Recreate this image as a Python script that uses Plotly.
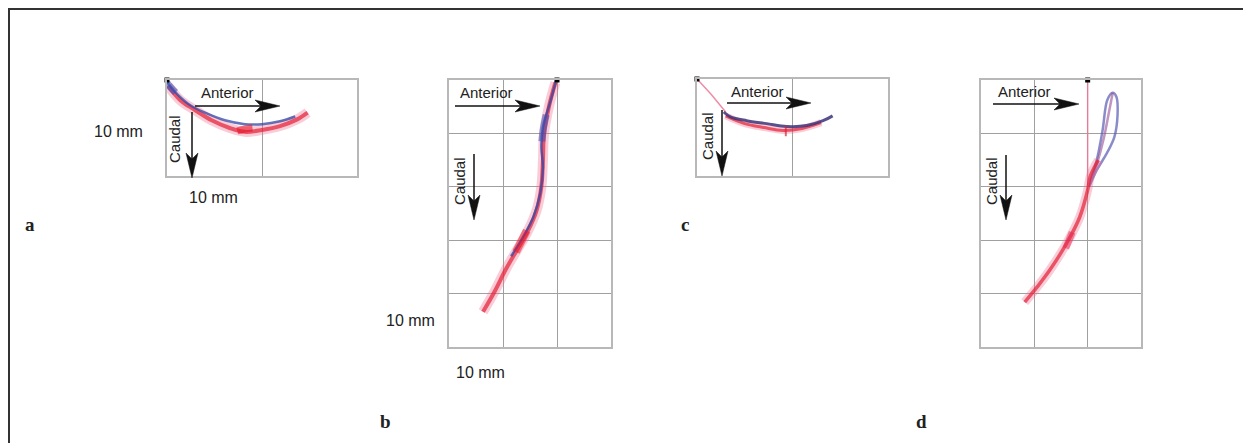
import plotly.graph_objects as go

# ---- data (mm; x = anterior, y = caudal) ----
a_red_x = [0.1, 1.4, 2.9, 4.7, 6.6, 8.2, 10.0, 11.9, 13.7, 14.8]
a_red_y = [0.6, 2.1, 3.1, 4.2, 5.0, 5.4, 5.2, 4.8, 4.1, 3.4]
a_blue_x = [-0.2, 0.3, 1.2, 2.4, 4.0, 6.1, 8.2, 10.0, 11.9, 13.5]
a_blue_y = [-0.1, 0.6, 1.6, 2.6, 3.4, 4.2, 4.6, 4.6, 4.3, 3.8]
a_blob_red = ([7.4, 8.2, 9.0], [5.3, 5.1, 5.0])
a_blob_blue = ([0.0, 0.4, 0.9], [0.3, 0.8, 1.3])

b_red_x = [-0.3, -1.5, -2.4, -2.6, -2.9, -3.8, -5.5, -7.5, -9.5, -11.5, -13.7]
b_red_y = [0.5, 5.0, 10.0, 15.0, 20.0, 24.5, 28.5, 32.0, 35.5, 39.5, 43.4]
b_blue_x = [-0.2, -1.3, -2.6, -2.9, -2.6, -3.1, -4.4, -6.3, -8.5]
b_blue_y = [0.2, 4.3, 8.8, 12.5, 16.3, 21.2, 25.7, 29.4, 33.0]
b_blob_red = ([-5.6, -6.5, -7.6], [28.2, 30.0, 32.2])
b_blob_blue = ([-2.0, -2.5, -2.8], [6.5, 9.0, 11.5])

c_pink_x = [0.0, 1.5, 3.0]
c_pink_y = [0.0, 1.6, 3.4]
c_red_x = [3.0, 5.0, 7.0, 9.0, 11.0, 13.0]
c_red_y = [3.8, 4.6, 5.0, 5.3, 5.1, 4.5]
c_blue_x = [2.8, 3.5, 5.2, 7.3, 9.4, 11.5, 13.2, 14.2]
c_blue_y = [3.4, 3.9, 4.3, 4.6, 4.9, 4.8, 4.3, 3.8]
c_spike_x = [9.3, 9.3]
c_spike_y = [4.9, 5.9]

d_pink_x = [0.0, 0.0]
d_pink_y = [0.0, 20.0]
d_blue_x = [0.3, 1.7, 3.6, 5.0, 5.6, 5.4, 4.7, 3.7, 2.8, 1.7, 0.5]
d_blue_y = [20.0, 16.9, 13.7, 10.7, 6.6, 3.2, 2.4, 3.7, 9.4, 15.0, 19.0]
d_mid_x = [4.7, 4.0, 3.0, 1.8, 0.4]
d_mid_y = [2.4, 6.0, 11.0, 15.5, 19.5]
d_red_x = [2.0, 0.5, 0.0, -1.5, -3.9, -7.1, -9.5, -11.8]
d_red_y = [15.0, 18.0, 20.6, 25.7, 30.5, 35.6, 38.8, 41.6]
d_blob_red = ([-2.9, -3.5, -4.1], [28.5, 30.0, 31.5])

panel_letters = ["a", "b", "c", "d"]
axis_texts = ["Anterior", "Caudal"]
scale_text = "10 mm"

# ---- layout helpers (page pixel -> paper; page body has an 8px margin) ----
OFF = 8
W, H = 1251 - OFF, 443 - OFF


def px(x):
    return (x - OFF) / W


def py(y):
    return 1 - (y - OFF) / H


def dx(p0, p1):
    return [px(p0), px(p1)]


def dy(p0, p1):
    return [py(p1), py(p0)]


RED = "rgba(226,30,52,0.7)"
REDHALO = "rgba(240,110,140,0.35)"
BLUE = "rgba(50,70,165,0.75)"
PINK = "rgba(235,120,150,0.85)"

fig = go.Figure()

panels = [
    ("x", "y", dx(167, 357), dy(80, 176), [0, 20], [10, 0]),
    ("x2", "y2", dx(449, 611), dy(80, 347), [-20, 10], [50, 0]),
    ("x3", "y3", dx(697, 888), dy(79, 176), [0, 20], [10, 0]),
    ("x4", "y4", dx(981, 1141), dy(80, 347), [-20, 10], [50, 0]),
]


def add_line(xs, ys, xa, ya, color, width, shape="spline"):
    fig.add_trace(go.Scatter(x=xs, y=ys, xaxis=xa, yaxis=ya, mode="lines",
                             line=dict(color=color, width=width, shape=shape),
                             hoverinfo="skip", showlegend=False))


# panel a
add_line(a_red_x, a_red_y, "x", "y", REDHALO, 10)
add_line(a_red_x, a_red_y, "x", "y", RED, 4)
add_line(a_blue_x, a_blue_y, "x", "y", BLUE, 2.5)
add_line(*a_blob_red, "x", "y", "rgba(230,20,40,0.6)", 7)
add_line(*a_blob_blue, "x", "y", "rgba(60,80,180,0.6)", 7)
# panel b
add_line(b_red_x, b_red_y, "x2", "y2", REDHALO, 10)
add_line(b_red_x, b_red_y, "x2", "y2", RED, 4)
add_line(b_blue_x, b_blue_y, "x2", "y2", BLUE, 2.5)
add_line(*b_blob_red, "x2", "y2", "rgba(230,20,40,0.5)", 8)
add_line(*b_blob_blue, "x2", "y2", "rgba(60,80,180,0.55)", 7)
# panel c
add_line(c_pink_x, c_pink_y, "x3", "y3", PINK, 1.5, "linear")
add_line(c_red_x, c_red_y, "x3", "y3", REDHALO, 7)
add_line(c_red_x, c_red_y, "x3", "y3", RED, 3)
add_line(c_blue_x, c_blue_y, "x3", "y3", "rgba(60,50,120,0.85)", 3)
add_line(c_spike_x, c_spike_y, "x3", "y3", "rgba(226,30,52,0.7)", 2, "linear")
# panel d
add_line(d_pink_x, d_pink_y, "x4", "y4", PINK, 1.5, "linear")
add_line(d_blue_x, d_blue_y, "x4", "y4", "rgba(90,90,180,0.7)", 2.5)
add_line(d_mid_x, d_mid_y, "x4", "y4", "rgba(150,80,150,0.6)", 2.5)
add_line(d_red_x, d_red_y, "x4", "y4", REDHALO, 9)
add_line(d_red_x, d_red_y, "x4", "y4", RED, 3.5)
add_line(*d_blob_red, "x4", "y4", "rgba(230,40,80,0.5)", 7)

# origin dots
for xa, ya in [("x", "y"), ("x2", "y2"), ("x3", "y3"), ("x4", "y4")]:
    fig.add_trace(go.Scatter(x=[0], y=[0], xaxis=xa, yaxis=ya, mode="markers",
                             marker=dict(color="black", size=5, symbol="square"),
                             cliponaxis=False, hoverinfo="skip", showlegend=False))

layout = dict(width=W, height=H, margin=dict(l=0, r=0, t=0, b=0),
              paper_bgcolor="white", plot_bgcolor="white", showlegend=False)

for i, (xa, ya, xd, yd, xr, yr) in enumerate(panels):
    xk = "xaxis" if i == 0 else f"xaxis{i+1}"
    yk = "yaxis" if i == 0 else f"yaxis{i+1}"
    common = dict(showgrid=True, gridcolor="#a0a0a0", gridwidth=1.2, zeroline=False,
                  showline=True, mirror=True, linecolor="#b8b8b8", linewidth=1.5,
                  showticklabels=False, ticks="", dtick=10, fixedrange=True)
    layout[xk] = dict(domain=xd, range=xr, anchor=ya, **common)
    layout[yk] = dict(domain=yd, range=yr, anchor=xa, **common)

fig.update_layout(**layout)

ann = []
shapes = []
lab_font = dict(family="Liberation Sans, Arial", size=15, color="#222")


def path(points):
    return "M " + " L ".join(f"{px(x):.5f},{py(y):.5f}" for x, y in points) + " Z"


def right_arrow(x0, x1, y):
    shapes.append(dict(type="line", xref="paper", yref="paper", x0=px(x0), x1=px(x1 - 18),
                       y0=py(y), y1=py(y), line=dict(color="#111", width=1.5)))
    shapes.append(dict(type="path", xref="paper", yref="paper",
                       path=path([(x1, y), (x1 - 25, y - 6), (x1 - 19, y), (x1 - 25, y + 6)]),
                       fillcolor="#111", line=dict(color="#111", width=0.5)))


def down_arrow(x, y0, y1):
    shapes.append(dict(type="line", xref="paper", yref="paper", x0=px(x), x1=px(x),
                       y0=py(y0), y1=py(y1 - 18), line=dict(color="#111", width=1.5)))
    shapes.append(dict(type="path", xref="paper", yref="paper",
                       path=path([(x, y1), (x - 6, y1 - 25), (x, y1 - 19), (x + 6, y1 - 25)]),
                       fillcolor="#111", line=dict(color="#111", width=0.5)))


# Anterior arrows + labels: (text_x, text_y, arrow_x0, arrow_x1, arrow_y)
ant = [(227, 93, 195, 280, 106), (486, 93, 455, 540, 106),
       (757, 91, 727, 811, 103), (1024, 92, 993, 1079, 104)]
for tx, ty, x0, x1, ay in ant:
    ann.append(dict(x=px(tx), y=py(ty), xref="paper", yref="paper", text=axis_texts[0],
                    showarrow=False, font=lab_font, xanchor="center", yanchor="middle"))
    right_arrow(x0, x1, ay)

# Caudal arrows + labels: (text_x, text_y, arrow_x, arrow_y0, arrow_y1)
cau = [(174, 139, 192, 112, 178), (459, 181, 474, 154, 220),
       (707, 136, 722, 110, 176), (991, 181, 1006, 155, 220)]
for tx, ty, x, y0, y1 in cau:
    ann.append(dict(x=px(tx), y=py(ty), xref="paper", yref="paper", text=axis_texts[1],
                    textangle=-90, showarrow=False, font=lab_font,
                    xanchor="center", yanchor="middle"))
    down_arrow(x, y0, y1)

# scale labels
for tx, ty in [(118, 131), (213, 197), (410, 320), (480, 372)]:
    ann.append(dict(x=px(tx), y=py(ty), xref="paper", yref="paper", text=scale_text,
                    showarrow=False, xanchor="center", yanchor="middle",
                    font=dict(family="Liberation Sans, Arial", size=16, color="#222")))

# panel letters
for t, (tx, ty) in zip(panel_letters, [(30, 224), (386, 421), (685, 224), (921, 421)]):
    ann.append(dict(x=px(tx), y=py(ty), xref="paper", yref="paper", text=f"<b>{t}</b>",
                    showarrow=False, xanchor="center", yanchor="middle",
                    font=dict(family="Liberation Serif, serif", size=19, color="#222")))

# outer frame (as close to the page corner as the figure allows)
shapes.append(dict(type="rect", xref="paper", yref="paper", x0=px(9), x1=1.02,
                   y0=-0.05, y1=py(9), line=dict(color="#333", width=2), layer="above"))

fig.update_layout(annotations=ann, shapes=shapes)

fig.write_html("out.html")
